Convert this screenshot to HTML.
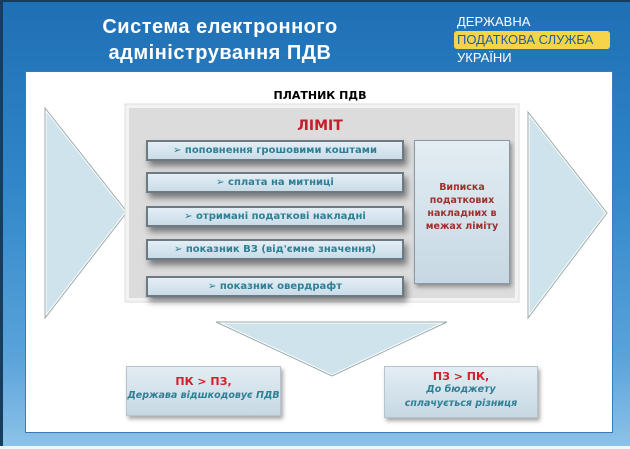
<!DOCTYPE html>
<html><head><meta charset="utf-8"><style>
*{margin:0;padding:0;box-sizing:border-box}
body{width:630px;height:449px;overflow:hidden;background:#f3f6f8;font-family:"Liberation Sans","DejaVu Sans",sans-serif;position:relative}
#bg{position:absolute;left:0;top:0;width:630px;height:446px;background:linear-gradient(180deg,#1f6fb5 0%,#2f86c8 40%,#5aa3da 80%,#8cc2e8 100%);border-left:3px solid #163d5e;border-top:2px solid #163d5e}
.t{position:absolute;color:#fff;font-family:"Liberation Sans",sans-serif;font-weight:bold;font-size:20px;line-height:26px;text-align:center;left:70px;width:300px;top:14px;white-space:nowrap;letter-spacing:0.5px}
.dps{position:absolute;left:457px;color:#fff;font-size:13px;line-height:18px}
#panel{position:absolute;left:25px;top:71px;width:588px;height:362px;background:#fff;border:1px solid #3a7cb8}
.lbl{position:absolute;font-family:"DejaVu Sans",sans-serif;font-weight:bold;font-size:10.5px;text-align:center}
.bar{position:absolute;left:146px;width:258px;height:21px;background:linear-gradient(#e4eef5,#c9dce8);border:2px solid #6e7a83;box-shadow:3px 5px 6px rgba(0,0,0,.45);color:#2f7f95;font-family:"DejaVu Sans",sans-serif;font-weight:bold;font-size:10px;line-height:17px;text-align:center}
.bx{position:absolute;background:linear-gradient(#e3edf3,#c6d8e3);border:1px solid #b8c4cc;box-shadow:2px 3px 4px rgba(0,0,0,.35);text-align:center;font-family:"DejaVu Sans",sans-serif;font-weight:bold}
</style></head><body>
<div id="bg"></div>
<div class="t">Система електронного<br>адміністрування ПДВ</div>
<div class="dps" style="top:13px">ДЕРЖАВНА</div>
<div class="dps" style="top:31px;left:454px;background:#f5d44a;color:#1d5fa0;border-radius:3px;padding:0 3px;width:156px">ПОДАТКОВА СЛУЖБА</div>
<div class="dps" style="top:49px">УКРАЇНИ</div>
<div id="panel"></div>
<div class="lbl" style="left:230px;top:89px;width:180px;font-size:11px">ПЛАТНИК ПДВ</div>
<svg width="630" height="449" style="position:absolute;left:0;top:0">
<polygon points="45,108 127,212 45,318" fill="#cfe3ec" stroke="#fff" stroke-width="3"/>
<polygon points="45,108 127,212 45,318" fill="none" stroke="#9aa" stroke-width="1"/>
<polygon points="528,112 607,213 528,318" fill="#cfe3ec" stroke="#fff" stroke-width="3"/>
<polygon points="528,112 607,213 528,318" fill="none" stroke="#9aa" stroke-width="1"/>
<rect x="125" y="104" width="394" height="198" fill="#f3f3f3" stroke="#ddd"/>
<rect x="129" y="108" width="386" height="190" fill="#dcdcdc"/>
<polygon points="216,322 447,322 332,376" fill="#cfe3ec" stroke="#fff" stroke-width="3"/>
<polygon points="216,322 447,322 332,376" fill="none" stroke="#9aa" stroke-width="1"/>
</svg>
<div class="lbl" style="left:230px;top:118px;width:180px;color:#c0202a;font-size:14px">ЛІМІТ</div>
<div class="bar" style="top:140px">➢ поповнення грошовими коштами</div>
<div class="bar" style="top:172px">➢ сплата на митниці</div>
<div class="bar" style="top:206px">➢ отримані податкові накладні</div>
<div class="bar" style="top:239px">➢ показник ВЗ (від'ємне значення)</div>
<div class="bar" style="top:276px">➢ показник овердрафт</div>
<div class="bx" style="left:414px;top:140px;width:96px;height:144px;border:1px solid #8a98a3;color:#a0302e;font-size:9.5px;line-height:13px;padding-top:40px">Виписка податкових накладних в межах ліміту</div>
<div class="bx" style="left:126px;top:366px;width:155px;height:50px;padding-top:8px"><div style="color:#d0202a;font-size:11px">ПК &gt; ПЗ,</div><div style="color:#2f7f95;font-style:italic;font-size:9.5px;margin-top:2px">Держава відшкодовує ПДВ</div></div>
<div class="bx" style="left:384px;top:366px;width:154px;height:52px;padding-top:3px"><div style="color:#d0202a;font-size:11px">ПЗ &gt; ПК,</div><div style="color:#2f7f95;font-style:italic;font-size:9.5px;line-height:14px">До бюджету<br>сплачується різниця</div></div>
</body></html>
